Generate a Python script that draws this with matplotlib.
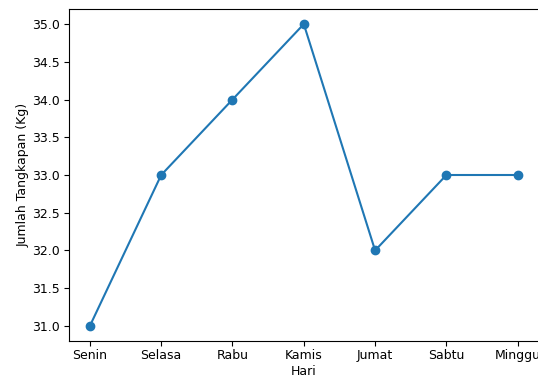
import matplotlib
matplotlib.use('Agg')
import matplotlib.pyplot as plt

hari = ['Senin', 'Selasa', 'Rabu', 'Kamis', 'Jumat', 'Sabtu', 'Minggu']
tangkapan = [31, 33, 34, 35, 32, 33, 33]

plt.rcParams['font.size'] = 9
plt.rcParams['xtick.major.pad'] = 2.5
plt.rcParams['ytick.major.pad'] = 2.5

fig = plt.figure(figsize=(5.38, 3.76), dpi=100)
# axes sedikit keluar di kanan, seperti tangkapan layar aslinya
ax = fig.add_axes([68.5 / 538, 1 - 341 / 376, 470.6 / 538, 332 / 376])
ax.plot(hari, tangkapan, marker='o')
ax.set_xlabel('Hari', labelpad=2)
ax.set_ylabel('Jumlah Tangkapan (Kg)', labelpad=2)

fig.savefig('out.png', dpi=100)
